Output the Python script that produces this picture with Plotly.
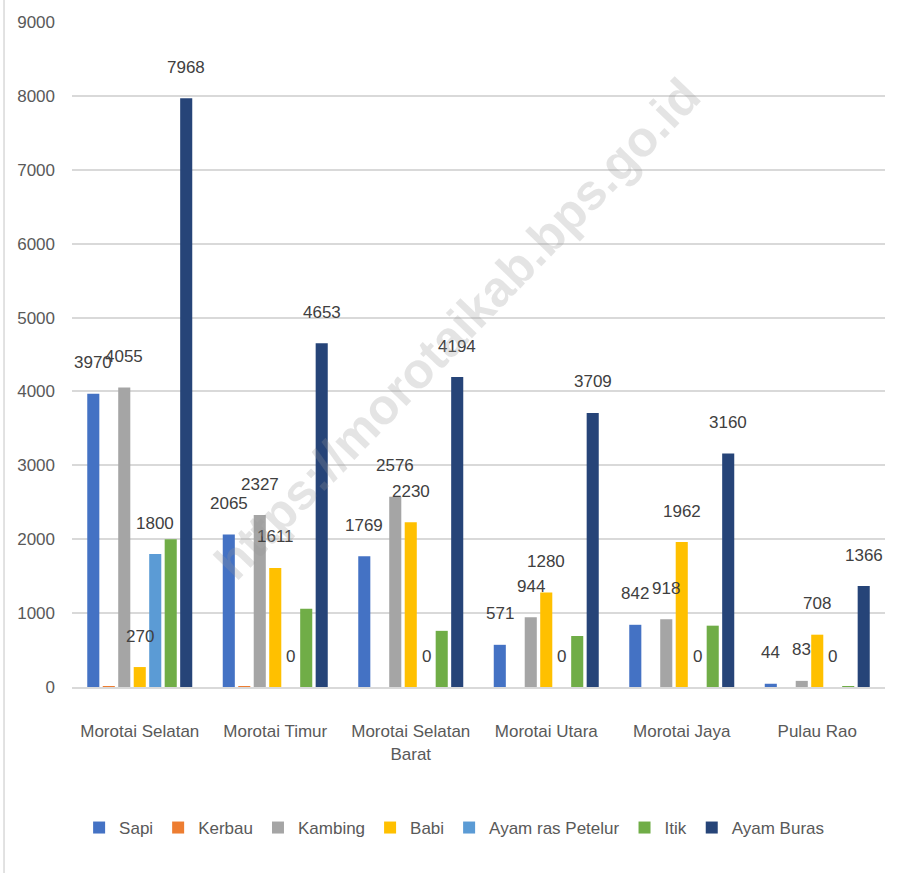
import plotly.graph_objects as go

categories = ["Morotai Selatan", "Morotai Timur", "Morotai Selatan<br>Barat",
              "Morotai Utara", "Morotai Jaya", "Pulau Rao"]

sapi = [3970, 2065, 1769, 571, 842, 44]
kerbau = [12, 10, 0, 0, 0, 0]
kambing = [4055, 2327, 2576, 944, 918, 83]
babi = [270, 1611, 2230, 1280, 1962, 708]
ayam_ras_petelur = [1800, 0, 0, 0, 0, 0]
itik = [2000, 1060, 760, 690, 830, 10]
ayam_buras = [7968, 4653, 4194, 3709, 3160, 1366]

series_names = ["Sapi", "Kerbau", "Kambing", "Babi", "Ayam ras Petelur", "Itik", "Ayam Buras"]
series_values = [sapi, kerbau, kambing, babi, ayam_ras_petelur, itik, ayam_buras]
series_colors = ["#4472C4", "#ED7D31", "#A5A5A5", "#FFC000", "#5B9BD5", "#70AD47", "#264478"]
series_labeled = [True, False, True, True, True, False, True]

y_ticks = [0, 1000, 2000, 3000, 4000, 5000, 6000, 7000, 8000, 9000]

FONT = "Liberation Sans, Arial, sans-serif"
FS = 17
BARGAP = 0.2

fig = go.Figure()
for name, vals, col in zip(series_names, series_values, series_colors):
    fig.add_trace(go.Bar(x=categories, y=vals, name=name, marker_color=col,
                         marker_line_width=0))

annotations = []
n = len(series_names)
for j, (vals, lab) in enumerate(zip(series_values, series_labeled)):
    if not lab:
        continue
    for i, v in enumerate(vals):
        annotations.append(dict(
            x=i + (j - (n - 1) / 2) * (1 - BARGAP) / n, y=v,
            xref="x", yref="y", text=str(v), showarrow=False,
            yshift=31, yanchor="middle",
            font=dict(family=FONT, size=FS, color="#404040")))

annotations.append(dict(
    x=0.4736, y=0.539, xref="paper", yref="paper",
    text="<b>https://morotaikab.bps.go.id</b>", showarrow=False, textangle=-46,
    font=dict(family=FONT, size=50, color="rgba(150,150,150,0.26)"),
    xanchor="center", yanchor="middle"))

fig.update_layout(
    width=905, height=873,
    margin=dict(l=72, r=20, t=22, b=186),
    paper_bgcolor="white", plot_bgcolor="white",
    barmode="group", bargap=BARGAP, bargroupgap=0.22,
    font=dict(family=FONT, size=FS, color="#595959"),
    showlegend=True,
    legend=dict(orientation="h", x=0.47, xanchor="center", y=-0.212,
                yanchor="middle", font=dict(family=FONT, size=FS, color="#595959"),
                itemwidth=30, tracegroupgap=0),
    annotations=annotations,
    shapes=[dict(type="line", xref="paper", yref="paper",
                 x0=-0.0836, x1=-0.0836, y0=-0.28, y1=1.04,
                 line=dict(color="#d9d9d9", width=1.5))],
)
fig.update_xaxes(showgrid=False, showline=True, linecolor="#d9d9d9", linewidth=2,
                 ticks="", ticklabelstandoff=28, tickangle=0,
                 tickfont=dict(family=FONT, size=FS, color="#595959"))
fig.update_yaxes(range=[0, 9000], tickvals=y_ticks, showgrid=True,
                 gridcolor="#d9d9d9", gridwidth=2, zeroline=False, showline=False,
                 ticklabelstandoff=16,
                 tickfont=dict(family=FONT, size=FS, color="#595959"))

fig.write_html("out.html")
